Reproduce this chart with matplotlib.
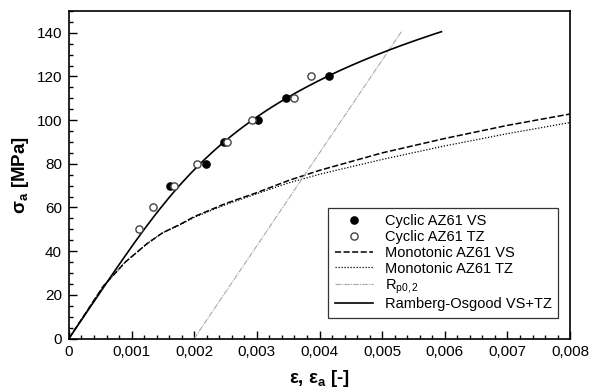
import numpy as np
import matplotlib
matplotlib.use("Agg")
import matplotlib.pyplot as plt
from matplotlib.ticker import MultipleLocator, FuncFormatter

plt.rcParams['font.family'] = ['Liberation Sans', 'DejaVu Sans']
plt.rcParams['mathtext.fontset'] = 'custom'
plt.rcParams['mathtext.rm'] = 'Liberation Sans'
plt.rcParams['mathtext.it'] = 'Liberation Sans:italic'
plt.rcParams['mathtext.bf'] = 'Liberation Sans:bold'

# Cyclic stabilised amplitudes
vs_strain = [0.00161, 0.00219, 0.00247, 0.00301, 0.00346, 0.00415]
vs_stress = [70, 80, 90, 100, 110, 120]
tz_strain = [0.00112, 0.00135, 0.00168, 0.00204, 0.00253, 0.00292, 0.00360, 0.00386]
tz_stress = [50, 60, 70, 80, 90, 100, 110, 120]

# Monotonic tensile curves
mono_vs_strain = [0, 0.00055, 0.0009, 0.00125, 0.0015, 0.00177, 0.002, 0.0025,
                  0.003, 0.0035, 0.004, 0.005, 0.006, 0.007, 0.008]
mono_vs_stress = [0, 24, 35, 43.5, 48.5, 52.2, 55.8, 61.8,
                  66.8, 72.3, 77.0, 85.0, 91.6, 97.6, 102.8]
mono_tz_strain = [0, 0.00055, 0.0009, 0.00125, 0.0015, 0.00177, 0.002, 0.0025,
                  0.003, 0.0035, 0.004, 0.005, 0.006, 0.007, 0.008]
mono_tz_stress = [0, 24, 35, 43.5, 48.5, 52.0, 55.5, 61.3,
                  66.3, 71.2, 75.2, 82.0, 88.2, 93.8, 98.9]

# Ramberg-Osgood parameters (VS+TZ) and offset line
E_mod = 42500.0      # MPa
K_prime = 528.0      # MPa
n_prime = 0.223
ro_stress_max = 140.5
rp_offset = 0.002
rp_stress_max = 141.0

ro_stress = np.linspace(0, ro_stress_max, 300)
ro_strain = ro_stress / E_mod + (ro_stress / K_prime) ** (1.0 / n_prime)
rp_stress = np.array([0, rp_stress_max])
rp_strain = rp_offset + rp_stress / E_mod

fig = plt.figure(figsize=(5.89, 3.90), dpi=100)
ax = fig.add_axes([0.117, 0.132, 0.851, 0.840])

ax.plot(mono_vs_strain, mono_vs_stress, color='black', lw=1.1,
        linestyle=(0, (4, 1.6)), label='Monotonic AZ61 VS')
ax.plot(mono_tz_strain, mono_tz_stress, color='black', lw=0.9,
        linestyle=(0, (1, 1.4)), label='Monotonic AZ61 TZ')
ax.plot(rp_strain, rp_stress, color='#a8a8a8', lw=0.8,
        linestyle=(0, (5, 1, 1, 1)), label='R$_\\mathregular{p0,2}$')
ax.plot(ro_strain, ro_stress, color='black', lw=1.2,
        label='Ramberg-Osgood VS+TZ')
ax.plot(vs_strain, vs_stress, 'o', ms=5.2, mfc='black', mec='black',
        label='Cyclic AZ61 VS')
ax.plot(tz_strain, tz_stress, 'o', ms=5.2, mfc='white', mec='#444444',
        mew=1.0, label='Cyclic AZ61 TZ')

ax.set_xlim(0, 0.008)
ax.set_ylim(0, 150)
ax.xaxis.set_major_locator(MultipleLocator(0.001))
ax.xaxis.set_minor_locator(MultipleLocator(0.0002))
ax.set_yticks(np.arange(0, 141, 20))
ax.yaxis.set_minor_locator(MultipleLocator(5))
ax.xaxis.set_major_formatter(FuncFormatter(
    lambda v, p: '0' if abs(v) < 1e-12 else f'{v:.3f}'.replace('.', ',')))

ax.tick_params(which='both', direction='in', top=False, right=False,
               labelsize=11, width=1.0)
ax.tick_params(which='major', length=6, pad=5)
ax.tick_params(which='minor', length=3)
for s in ax.spines.values():
    s.set_linewidth(1.2)

ax.set_xlabel('ε, ε$_\\mathbf{a}$ [-]', fontsize=13.5, fontweight='bold', labelpad=6)
ax.set_ylabel('σ$_\\mathbf{a}$ [MPa]', fontsize=13.5, fontweight='bold', labelpad=4)

handles, labels = ax.get_legend_handles_labels()
order = [4, 5, 0, 1, 2, 3]
leg = ax.legend([handles[i] for i in order], [labels[i] for i in order],
                loc='lower right', bbox_to_anchor=(0.976, 0.063),
                fontsize=10.5, frameon=True, fancybox=False, handlelength=2.6,
                handletextpad=0.8, labelspacing=0.12, borderpad=0.45,
                borderaxespad=0)
leg.get_frame().set_edgecolor('black')
leg.get_frame().set_linewidth(0.9)

fig.savefig('out.png', dpi=100)
